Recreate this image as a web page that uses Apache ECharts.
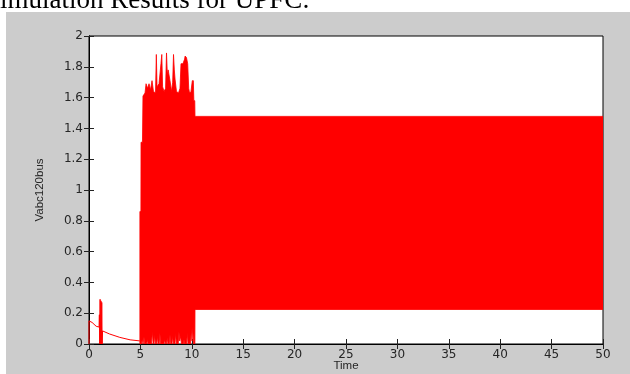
<!DOCTYPE html>
<html>
<head>
<meta charset="utf-8">
<script src="https://cdn.jsdelivr.net/npm/echarts@6/dist/echarts.min.js"></script>
<style>
  html, body { margin: 0; padding: 0; background: #fff; }
  #chart { width: 630px; height: 374px; }
</style>
</head>
<body>
<div id="chart"></div>
<script>
// thin trace before the disturbance (t < 5 s)
const traceT = [0, 0, 0.3, 0.7, 0.98, 1.01, 1.04, 1.08, 1.12, 1.16, 1.2, 1.24, 1.28, 1.32, 1.4, 2.0, 3.0, 4.0, 4.95];
const traceV = [0, 0.15, 0.14, 0.115, 0.11, 0.19, 0, 0.29, 0, 0.28, 0, 0.27, 0, 0.085, 0.082, 0.065, 0.043, 0.027, 0.02];

// upper envelope of the dense oscillation
const bandTopT = [4.95, 5.05, 5.06, 5.2, 5.25, 5.45, 5.55, 5.7, 5.84, 5.98, 6.13, 6.27, 6.47, 6.55, 6.62, 6.81, 7.0, 7.08, 7.16, 7.3, 7.45, 7.54, 7.62, 7.7, 7.88, 8.03, 8.14, 8.22, 8.3, 8.37, 8.51, 8.71, 8.85, 8.95, 9.14, 9.3, 9.35, 9.48, 9.6, 9.7, 9.78, 9.92, 10.05, 10.15, 10.2, 10.29, 10.31, 50];
const bandTopV = [0.86, 0.86, 1.31, 1.31, 1.61, 1.63, 1.69, 1.66, 1.69, 1.65, 1.71, 1.64, 1.63, 1.88, 1.67, 1.69, 1.82, 1.88, 1.67, 1.64, 1.66, 1.89, 1.75, 1.78, 1.71, 1.64, 1.70, 1.88, 1.78, 1.72, 1.64, 1.63, 1.66, 1.82, 1.82, 1.85, 1.87, 1.86, 1.82, 1.66, 1.63, 1.64, 1.71, 1.71, 1.58, 1.58, 1.478, 1.478];

// lower envelope of the dense oscillation
const bandBottomT = [4.95, 5.1, 5.18, 5.26, 5.35, 5.42, 5.6, 5.67, 5.74, 6.08, 6.16, 6.24, 6.32, 6.39, 6.46, 6.58, 6.65, 6.72, 6.83, 6.9, 6.97, 7.29, 7.36, 7.43, 7.54, 7.61, 7.68, 7.81, 7.88, 7.95, 8.07, 8.14, 8.21, 8.36, 8.43, 8.5, 8.68, 8.75, 8.82, 8.92, 8.99, 9.17, 9.24, 9.31, 9.49, 9.56, 9.63, 9.88, 9.95, 10.02, 10.09, 10.16, 10.3, 10.31, 50];
const bandBottomV = [0, 0, 0.03, 0, 0.045, 0, 0, 0.03, 0, 0, 0.08, 0, 0, 0.06, 0, 0, 0.05, 0, 0, 0.07, 0, 0, 0.03, 0, 0, 0.04, 0, 0, 0.06, 0, 0, 0.05, 0, 0, 0.07, 0, 0, 0.08, 0.02, 0.05, 0, 0, 0.03, 0, 0, 0.07, 0, 0, 0.1, 0.02, 0.11, 0, 0, 0.224, 0.224];

const red = '#ff0000';
const tickFont = { fontFamily: 'DejaVu Sans', fontSize: 12, color: '#262626' };
const nameFont = { fontFamily: 'Liberation Sans', fontSize: 11.5, color: '#262626' };

const chart = echarts.init(document.getElementById('chart'), null, { renderer: 'canvas' });

const boxAxis = {
  type: 'value',
  axisLine: { show: true, lineStyle: { color: '#000', width: 1 } },
  axisTick: { show: true, inside: true, length: 5, lineStyle: { color: '#222' } },
  splitLine: { show: false }
};

chart.setOption({
  animation: false,
  backgroundColor: '#fff',
  graphic: [
    {
      type: 'rect', z: -1, silent: true,
      shape: { x: 6, y: 12, width: 624, height: 362 },
      style: { fill: '#cccccc' }
    },
    {
      type: 'text', x: -15, y: 1, silent: true,
      style: {
        text: 'Simulation Results for UPFC:',
        font: '27px "Liberation Serif"',
        fill: '#000',
        verticalAlign: 'middle'
      }
    }
  ],
  grid: {
    left: 89, right: 27, top: 36, bottom: 30,
    outerBoundsMode: 'none',
    containLabel: false,
    show: true, backgroundColor: '#fff', borderColor: '#000', borderWidth: 1
  },
  xAxis: [
    {
      ...boxAxis, position: 'bottom', min: 0, max: 50, interval: 5,
      axisLabel: { ...tickFont, margin: 5 },
      name: 'Time', nameLocation: 'middle', nameGap: 16, nameMoveOverlap: false,
      nameTextStyle: nameFont
    },
    {
      ...boxAxis, position: 'top', min: 0, max: 50, interval: 5,
      axisLabel: { show: false }
    }
  ],
  yAxis: [
    {
      ...boxAxis, position: 'left', min: 0, max: 2, interval: 0.2,
      axisLabel: { ...tickFont, margin: 6 },
      name: 'Vabc120bus', nameLocation: 'middle', nameGap: 43, nameMoveOverlap: false,
      nameTextStyle: nameFont
    },
    {
      ...boxAxis, position: 'right', min: 0, max: 2, interval: 0.2,
      axisLabel: { show: false }
    }
  ],
  series: [
    {
      name: 'trace',
      type: 'line',
      xAxisIndex: 0, yAxisIndex: 0,
      symbol: 'none',
      lineStyle: { color: red, width: 1 },
      data: traceT.map((t, i) => [t, traceV[i]])
    },
    {
      name: 'band',
      type: 'custom',
      xAxisIndex: 0, yAxisIndex: 0,
      silent: true,
      clip: true,
      data: [[0, 0]],
      renderItem: function (params, api) {
        const pts = [];
        for (let i = 0; i < bandTopT.length; i++) {
          pts.push(api.coord([bandTopT[i], bandTopV[i]]));
        }
        for (let i = bandBottomT.length - 1; i >= 0; i--) {
          pts.push(api.coord([bandBottomT[i], bandBottomV[i]]));
        }
        return {
          type: 'polygon',
          shape: { points: pts },
          style: { fill: red, stroke: red, lineWidth: 0.8 }
        };
      }
    }
  ]
});
</script>
</body>
</html>
